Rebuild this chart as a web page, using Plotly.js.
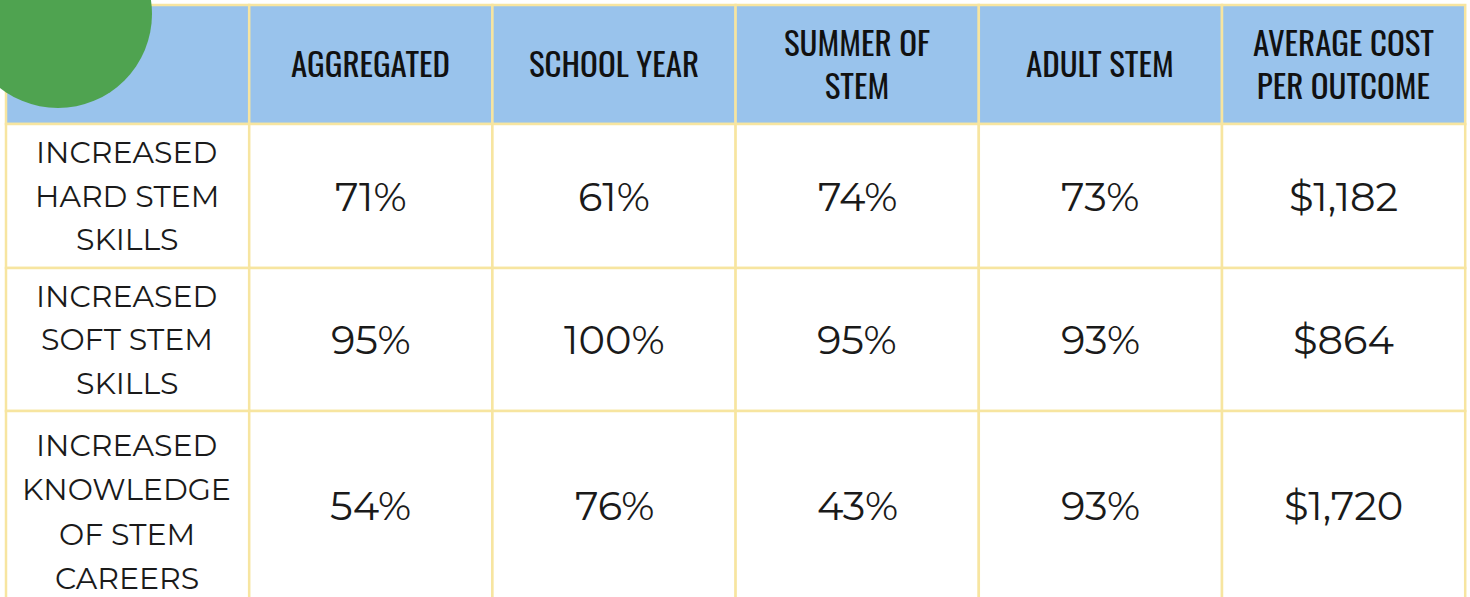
<!DOCTYPE html>
<html>
<head>
<meta charset="utf-8">
<script src="https://cdn.plot.ly/plotly-3.0.1.min.js"></script>
<style>
  html, body { margin: 0; padding: 0; background: #ffffff; }
  #chart { width: 1470px; height: 597px; }
</style>
</head>
<body>
<div id="chart"></div>
<script>
// ---- data ----
const columnHeaders = ["", "AGGREGATED", "SCHOOL YEAR", "SUMMER OF<br>STEM", "ADULT STEM", "AVERAGE COST<br>PER OUTCOME"];
const outcomes = ["INCREASED<br>HARD STEM<br>SKILLS", "INCREASED<br>SOFT STEM<br>SKILLS", "INCREASED<br>KNOWLEDGE<br>OF STEM<br>CAREERS"];
const aggregated = [71, 95, 54];
const schoolYear = [61, 100, 76];
const summerOfStem = [74, 95, 43];
const adultStem = [73, 93, 93];
const avgCostPerOutcome = [1182, 864, 1720];

// ---- layout constants (positions / styles) ----
const W = 1470, H = 597;
const tableX0 = 6, colW = 243.2;
const headerTop = 5, headerH = 119;
const rowHeights = [144, 143, 200];
const lineGaps = [43.5, 43.5, 44.3];
const borderColor = "#f7e5a0";
const headerFill = "#99c3ec";
const headerFont = "Oswald, 'Liberation Sans Narrow', 'DejaVu Sans Condensed', 'Roboto Condensed', sans-serif";
const bodyFont = "Montserrat, 'DejaVu Sans', sans-serif";

const pct = v => v + "%";
const money = v => "$" + v.toLocaleString("en-US");
const seriesCols = [aggregated.map(pct), schoolYear.map(pct), summerOfStem.map(pct), adultStem.map(pct), avgCostPerOutcome.map(money)];

const shapes = [];
const annotations = [];

function addLines(text, cx, cy, gap, font) {
  const lines = text.split("<br>");
  const n = lines.length;
  lines.forEach((ln, k) => {
    annotations.push({
      xref: "x", yref: "y", x: cx, y: cy + (k - (n - 1) / 2) * gap,
      text: ln, showarrow: false, xanchor: "center", yanchor: "middle",
      font: font
    });
  });
}

// header row
columnHeaders.forEach((h, i) => {
  const x0 = tableX0 + i * colW, x1 = x0 + colW;
  shapes.push({type: "rect", xref: "x", yref: "y", x0: x0, x1: x1, y0: headerTop, y1: headerTop + headerH,
    fillcolor: headerFill, line: {color: borderColor, width: 2.5}, layer: "below"});
  if (h) annotations.push({xref: "x", yref: "y", x: (x0 + x1) / 2, y: headerTop + headerH / 2 - 2,
    text: h, showarrow: false, xanchor: "center", yanchor: "middle", align: "center",
    font: {family: headerFont, size: 33, color: "#111111"}});
});

// body rows
let rowTop = headerTop + headerH;
outcomes.forEach((lab, r) => {
  const h = rowHeights[r];
  const cy = rowTop + h / 2;
  for (let i = 0; i < columnHeaders.length; i++) {
    const x0 = tableX0 + i * colW, x1 = x0 + colW;
    shapes.push({type: "rect", xref: "x", yref: "y", x0: x0, x1: x1, y0: rowTop, y1: rowTop + h,
      fillcolor: "#ffffff", line: {color: borderColor, width: 2.5}, layer: "below"});
    if (i === 0) {
      addLines(lab, (x0 + x1) / 2 - 1, cy + (r === 2 ? 1 : 0), lineGaps[r], {family: bodyFont, size: 30, color: "#1a1a1a"});
    } else {
      annotations.push({xref: "x", yref: "y", x: (x0 + x1) / 2, y: cy - (r === 2 ? 6 : 0),
        text: seriesCols[i - 1][r], showarrow: false, xanchor: "center", yanchor: "middle",
        font: {family: bodyFont, size: 40, color: "#1a1a1a"}});
    }
  }
  rowTop += h;
});

// green circle decoration
shapes.push({type: "circle", xref: "x", yref: "y", x0: 58 - 94, x1: 58 + 94, y0: 14 - 94, y1: 14 + 94,
  fillcolor: "#4fa350", line: {width: 0}, layer: "above"});

const layout = {
  width: W, height: H,
  margin: {l: 0, r: 0, t: 0, b: 0},
  paper_bgcolor: "#ffffff", plot_bgcolor: "#ffffff",
  xaxis: {range: [0, W], visible: false, fixedrange: true},
  yaxis: {range: [H, 0], visible: false, fixedrange: true},
  shapes: shapes,
  annotations: annotations,
  showlegend: false
};

Plotly.newPlot("chart", [{type: "scatter", x: [], y: [], hoverinfo: "skip"}], layout, {displayModeBar: false, staticPlot: true});
</script>
</body>
</html>
